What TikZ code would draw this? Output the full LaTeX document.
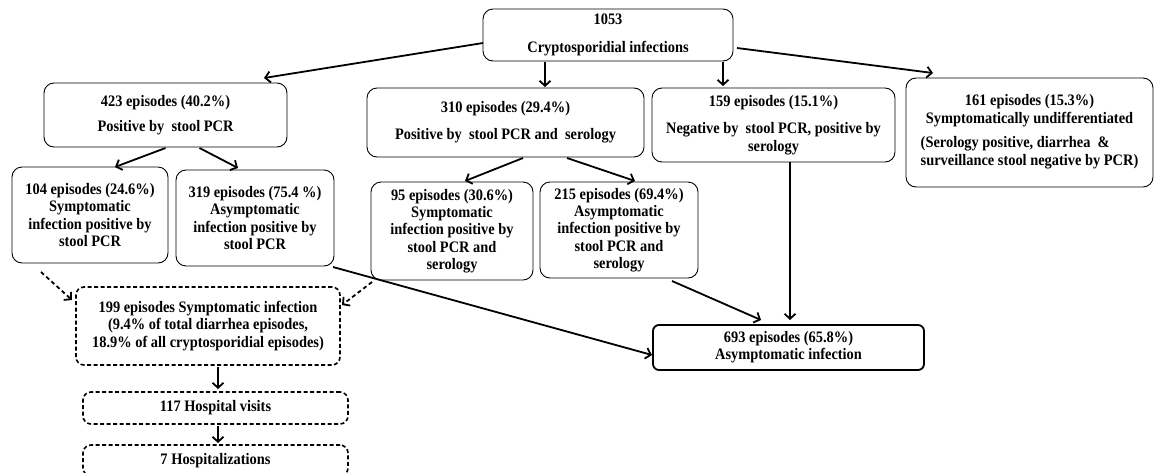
\documentclass[tikz,border=0pt]{standalone}
\usepackage{fontspec}
\setmainfont{Liberation Serif}[FakeStretch=0.9]
\usetikzlibrary{positioning,arrows.meta,calc}

\begin{document}
\begin{tikzpicture}[x=1pt, y=-1pt,
  box/.style={draw, rounded corners=10pt, line width=0.9pt, align=center,
    inner sep=0pt, outer sep=0pt, font=\bfseries\fontsize{16}{17.3}\selectfont},
  dbox/.style={box, rounded corners=8pt, line width=1.6pt, dash pattern=on 4pt off 2.5pt},
  arr/.style={line width=1.8pt, -{Straight Barb[length=5pt,width=11pt]}},
  darr/.style={arr, dash pattern=on 4pt off 3pt}]

  % page size of the figure
  \useasboundingbox (0,0) rectangle (1155,472);

  % top level
  \node[box, minimum width=250pt, minimum height=52pt] (total) at (608,35)
    {1053\\[10pt]Cryptosporidial infections};

  % second level
  \node[box, minimum width=243pt, minimum height=64pt] (pcr) at (165.5,115)
    {423 episodes (40.2\%)\\[8pt]Positive by\ \ stool PCR};
  \node[box, minimum width=277pt, minimum height=69pt] (pcrsero) at (505.5,122.5)
    {310 episodes (29.4\%)\\[10pt]Positive by\ \ stool PCR and\ \ serology};
  \node[box, minimum width=243pt, minimum height=74pt] (sero) at (773.5,125)
    {159 episodes (15.1\%)\\[10pt]Negative by\ \ stool PCR, positive by\\serology};
  \node[box, minimum width=247pt, minimum height=109pt] (undiff) at (1029.5,132.5)
    {161 episodes (15.3\%)\\Symptomatically undifferentiated\\[8pt]
     \begin{tabular}{@{}l@{}}(Serology positive, diarrhea\ \ \&\\
     surveillance stool negative by PCR)\end{tabular}};

  % third level
  \node[box, minimum width=156pt, minimum height=96pt] (pcrsym) at (90,215)
    {104 episodes (24.6\%)\\Symptomatic\\infection positive by\\stool PCR};
  \node[box, minimum width=158pt, minimum height=96pt] (pcrasym) at (255,218)
    {319 episodes (75.4 \%)\\Asymptomatic\\infection positive by\\stool PCR};
  \node[box, minimum width=162pt, minimum height=98pt] (bothsym) at (452,231)
    {95 episodes (30.6\%)\\Symptomatic\\infection positive by\\stool PCR and\\serology};
  \node[box, minimum width=158pt, minimum height=96pt] (bothasym) at (619,230)
    {215 episodes (69.4\%)\\Asymptomatic\\infection positive by\\stool PCR and\\serology};

  % outcomes
  \node[dbox, minimum width=264pt, minimum height=78pt] (sym) at (208,326)
    {199 episodes Symptomatic infection\\(9.4\% of total diarrhea episodes,\\
     18.9\% of all cryptosporidial episodes)};
  \node[dbox, minimum width=265pt, minimum height=32pt] (visits) at (215.5,408)
    {117 Hospital visits};
  \node[dbox, minimum width=265pt, minimum height=31pt] (hosp) at (215.5,460.5)
    {7 Hospitalizations};
  \node[box, rounded corners=6pt, line width=1.8pt, minimum width=271pt,
    minimum height=45pt] (asym) at (788.5,347.5)
    {693 episodes (65.8\%)\\Asymptomatic infection};

  % arrows from the total
  \draw[arr] ($(total.west)+(0,8)$) -- ($(pcr.north east)+(-23,-5)$);
  \draw[arr] ($(total.south)+(-63,1)$) -- ($(pcrsero.north)+(39.5,-1)$);
  \draw[arr] ($(total.south)+(115,1)$) -- ($(sero.north)+(-50.5,-2)$);
  \draw[arr] ($(total.east)+(4,13)$) -- ($(undiff.north west)+(27,-5)$);

  % splits
  \draw[arr] ($(pcr.south)+(0,1)$) -- ($(pcrsym.north)+(25,0)$);
  \draw[arr] ($(pcr.south)+(34,1)$) -- ($(pcrasym.north)+(-17,-2)$);
  \draw[arr] ($(pcrsero.south)+(17.5,1)$) -- ($(bothsym.north)+(13,-1)$);
  \draw[arr] ($(pcrsero.south)+(61.5,1)$) -- ($(bothasym.north)+(16,-1)$);

  % symptomatic side
  \draw[darr] ($(pcrsym.south)+(-49,9)$) -- ($(sym.north west)+(-4,13)$);
  \draw[darr] ($(bothsym.south west)+(1,2)$) -- ($(sym.north east)+(2,18)$);
  \draw[arr] ($(sym.south)+(10,2)$) -- ($(visits.north)+(2.5,-3)$);
  \draw[arr] ($(visits.south)+(2.5,2)$) -- ($(hosp.north)+(2.5,-2)$);

  % asymptomatic side
  \draw[arr] ($(pcrasym.south east)+(-1,1)$) -- ($(asym.west)+(-1,7.5)$);
  \draw[arr] ($(bothasym.south east)+(-26,3)$) -- ($(asym.north)+(-27.5,-5)$);
  \draw[arr] ($(sero.south)+(16.5,0)$) -- ($(asym.north)+(1.5,-5)$);
\end{tikzpicture}
\end{document}
